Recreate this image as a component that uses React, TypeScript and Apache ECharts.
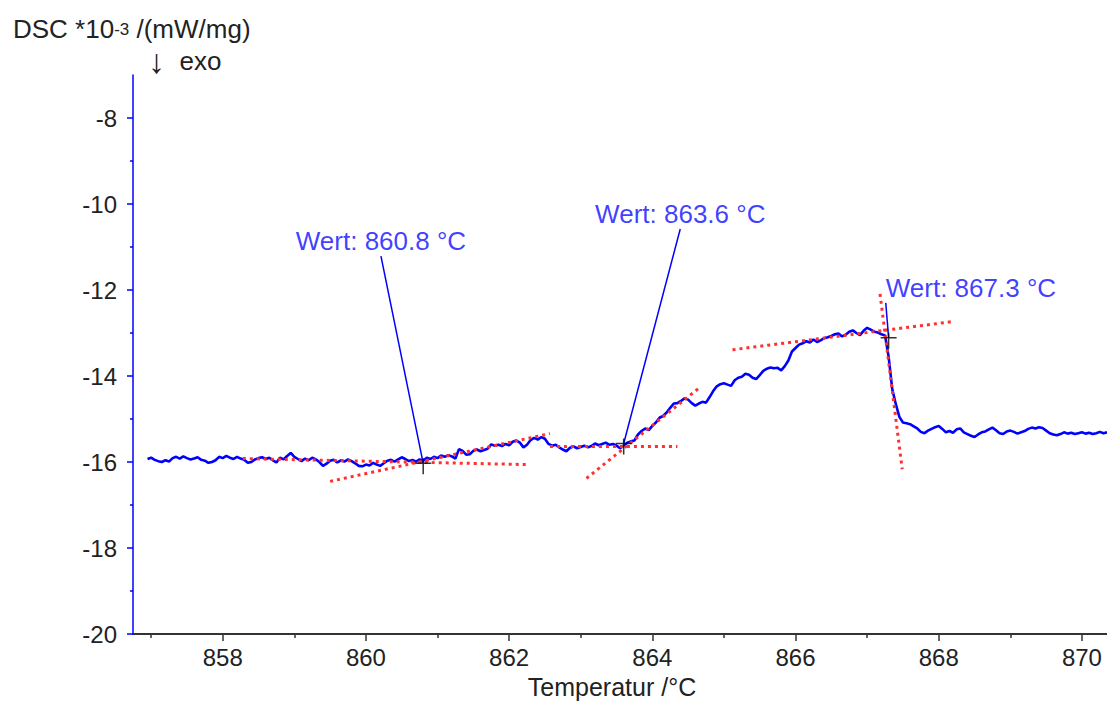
import React, { useEffect, useRef } from 'react';
import * as echarts from 'echarts';

// DSC signal, sampled every 0.05 °C starting at 856.95 °C (unit: 10^-3 mW/mg)
const T_START = 856.95;
const T_STEP = 0.05;
const dscValues = [
  -15.93, -15.90, -15.95, -15.98, -16.00, -15.96, -15.99, -15.91, -15.88, -15.92,
  -15.87, -15.91, -15.94, -15.92, -15.89, -15.95, -15.97, -16.02, -16.00, -15.96,
  -15.88, -15.91, -15.86, -15.90, -15.93, -15.88, -15.92, -15.95, -16.02, -16.00,
  -15.94, -15.91, -15.89, -15.93, -15.90, -15.96, -16.01, -15.90, -15.94, -15.86,
  -15.79, -15.88, -15.93, -15.98, -15.92, -15.96, -15.90, -15.94, -16.00, -16.09,
  -16.04, -15.97, -15.95, -16.01, -15.96, -15.99, -15.94, -15.98, -16.03, -16.09,
  -16.10, -16.06, -16.08, -16.02, -16.06, -16.09, -16.03, -15.97, -15.95, -15.99,
  -15.94, -15.89, -15.93, -15.98, -15.95, -15.99, -15.94, -15.97, -15.90, -15.93,
  -15.88, -15.91, -15.85, -15.88, -15.84, -15.87, -15.92, -15.70, -15.74, -15.83,
  -15.82, -15.74, -15.71, -15.75, -15.72, -15.69, -15.59, -15.62, -15.60, -15.63,
  -15.58, -15.61, -15.53, -15.50, -15.55, -15.66, -15.60, -15.49, -15.44, -15.48,
  -15.42, -15.46, -15.58, -15.62, -15.60, -15.66, -15.71, -15.75, -15.67, -15.64,
  -15.68, -15.65, -15.62, -15.66, -15.63, -15.57, -15.61, -15.58, -15.55, -15.60,
  -15.58, -15.62, -15.68, -15.62, -15.55, -15.52, -15.50, -15.36, -15.28, -15.22,
  -15.26, -15.16, -15.08, -14.97, -14.93, -14.85, -14.74, -14.64, -14.63, -14.58,
  -14.52, -14.55, -14.63, -14.69, -14.64, -14.60, -14.62, -14.49, -14.35, -14.24,
  -14.19, -14.17, -14.20, -14.23, -14.10, -14.04, -14.02, -13.95, -13.97, -14.04,
  -14.07, -13.98, -13.88, -13.83, -13.80, -13.82, -13.81, -13.87, -13.77, -13.64,
  -13.43, -13.35, -13.27, -13.24, -13.19, -13.22, -13.15, -13.21, -13.17, -13.12,
  -13.10, -13.07, -13.03, -13.01, -13.08, -13.04, -12.97, -12.94, -13.00, -13.05,
  -12.95, -12.88, -12.92, -12.97, -12.99, -13.03, -13.06, -13.55, -14.30, -14.65,
  -14.95, -15.08, -15.10, -15.12, -15.17, -15.22, -15.30, -15.33, -15.27, -15.23,
  -15.19, -15.16, -15.23, -15.31, -15.28, -15.32, -15.24, -15.22, -15.31, -15.35,
  -15.39, -15.42, -15.36, -15.31, -15.29, -15.24, -15.20, -15.26, -15.33, -15.35,
  -15.29, -15.27, -15.30, -15.34, -15.31, -15.28, -15.23, -15.20, -15.22, -15.19,
  -15.21, -15.27, -15.33, -15.36, -15.38, -15.35, -15.31, -15.34, -15.32, -15.35,
  -15.33, -15.31, -15.34, -15.32, -15.35, -15.33, -15.30, -15.33, -15.31,
];

// Axis ranges and tick positions
const X_MIN = 856.747;
const X_MAX = 870.35;
const Y_MIN = -20;
const Y_MAX = -7;
const xLabelTicks = [858, 860, 862, 864, 866, 868, 870];
const xMinorTicks = [857, 859, 861, 863, 865, 867, 869];
const yLabelTicks = [-20, -18, -16, -14, -12, -10, -8];
const yMinorTicks = [-19, -17, -15, -13, -11, -9];

// Evaluated onsets ("Wert") and the anchor of each label's leader line
const onsetTemps = [860.8, 863.6, 867.3];
const onsetValues = [-16.03, -15.57, -13.11];
const anchorTemps = [860.21, 864.39, 867.26];
const anchorValues = [-11.21, -10.58, -12.3];
const labelAligns = ['center', 'center', 'left'];

// Tangent construction lines: [[T1, v1], [T2, v2]]
const tangents = [
  [[858.28, -15.92], [862.25, -16.06]],
  [[859.5, -16.45], [862.57, -15.34]],
  [[862.57, -15.64], [864.35, -15.64]],
  [[863.08, -16.38], [864.66, -14.27]],
  [[865.12, -13.39], [868.17, -12.74]],
  [[867.18, -12.09], [867.49, -16.17]],
];

const FONT = '"Liberation Sans", Arial, sans-serif';
const BLUE = '#0000ff';
const LABEL_BLUE = '#0c0cff';

function buildOption() {
  const curve = dscValues.map((v, i) => [+(T_START + i * T_STEP).toFixed(2), v]);

  const tangentSeries = tangents.map((seg) => ({
    type: 'line',
    data: seg,
    symbol: 'none',
    silent: true,
    lineStyle: { color: '#ff3030', width: 3, type: [3, 4], cap: 'butt' },
    z: 3,
  }));

  const leaderSeries = onsetTemps.map((t, i) => ({
    type: 'line',
    data: [
      [anchorTemps[i], anchorValues[i]],
      [t, onsetValues[i]],
    ],
    symbol: 'none',
    silent: true,
    lineStyle: { color: BLUE, width: 1.5 },
    z: 4,
  }));

  return {
    animation: false,
    backgroundColor: '#ffffff',
    textStyle: { fontFamily: FONT },
    grid: { left: 133, right: 0, top: 75, bottom: 68, containLabel: false },
    xAxis: [
      {
        type: 'value',
        min: X_MIN,
        max: X_MAX,
        position: 'bottom',
        axisLine: { show: true, lineStyle: { color: '#333333', width: 2 } },
        axisTick: {
          show: true,
          inside: false,
          length: 7,
          customValues: xLabelTicks,
          lineStyle: { color: '#333333', width: 1.5 },
        },
        axisLabel: {
          customValues: xLabelTicks,
          fontSize: 24,
          color: '#222222',
          margin: 11,
          fontFamily: FONT,
        },
        splitLine: { show: false },
      },
      {
        type: 'value',
        min: X_MIN,
        max: X_MAX,
        position: 'bottom',
        axisLine: { show: false },
        axisTick: {
          show: true,
          length: 4,
          customValues: xMinorTicks,
          lineStyle: { color: '#333333', width: 1.5 },
        },
        axisLabel: { show: false },
        splitLine: { show: false },
      },
    ],
    yAxis: [
      {
        type: 'value',
        min: Y_MIN,
        max: Y_MAX,
        position: 'left',
        axisLine: { show: true, lineStyle: { color: BLUE, width: 1.5 } },
        axisTick: {
          show: true,
          length: 6,
          customValues: yLabelTicks,
          lineStyle: { color: BLUE, width: 1.5 },
        },
        axisLabel: {
          customValues: yLabelTicks,
          fontSize: 24,
          color: '#222222',
          margin: 16,
          fontFamily: FONT,
        },
        splitLine: { show: false },
      },
      {
        type: 'value',
        min: Y_MIN,
        max: Y_MAX,
        position: 'left',
        axisLine: { show: false },
        axisTick: {
          show: true,
          length: 3,
          customValues: yMinorTicks,
          lineStyle: { color: BLUE, width: 1.5 },
        },
        axisLabel: { show: false },
        splitLine: { show: false },
      },
    ],
    graphic: [
      {
        type: 'text',
        x: 13,
        y: 29,
        style: {
          text: '{m|DSC *10}{s|-3}{m| /(mW/mg)}',
          align: 'left',
          verticalAlign: 'middle',
          fill: '#222222',
          rich: {
            m: { fontSize: 26, fontFamily: FONT, fill: '#222222' },
            s: { fontSize: 17, fontFamily: FONT, fill: '#222222' },
          },
        },
      },
      {
        type: 'text',
        x: 148,
        y: 61,
        style: {
          text: '{a|↓}{m|  exo}',
          align: 'left',
          verticalAlign: 'middle',
          fill: '#222222',
          rich: {
            a: { fontSize: 34, fontFamily: FONT, fill: '#222222' },
            m: { fontSize: 26, fontFamily: FONT, fill: '#222222' },
          },
        },
      },
      {
        type: 'text',
        x: 612,
        y: 687,
        style: {
          text: 'Temperatur /°C',
          align: 'center',
          verticalAlign: 'middle',
          fontSize: 25,
          fontFamily: FONT,
          fill: '#222222',
        },
      },
    ],
    series: [
      {
        type: 'line',
        data: curve,
        symbol: 'none',
        silent: true,
        lineStyle: { color: BLUE, width: 2.6 },
        z: 2,
      },
      ...tangentSeries,
      ...leaderSeries,
      {
        type: 'scatter',
        data: onsetTemps.map((t, i) => [t, onsetValues[i]]),
        symbol: 'path://M0,5L16,5M8,0L8,16',
        symbolSize: 16,
        symbolOffset: [0, 3],
        silent: true,
        itemStyle: { color: 'transparent', borderColor: '#000000', borderWidth: 1.5 },
        z: 5,
      },
      {
        type: 'scatter',
        symbolSize: 0,
        silent: true,
        z: 6,
        data: onsetTemps.map((t, i) => ({
          value: [anchorTemps[i], anchorValues[i]],
          label: {
            show: true,
            position: 'top',
            distance: 2,
            align: labelAligns[i],
            formatter: `Wert: ${t.toFixed(1)} °C`,
            fontSize: 26,
            fontFamily: FONT,
            color: LABEL_BLUE,
          },
        })),
      },
    ],
  };
}

export default function App() {
  const ref = useRef<HTMLDivElement>(null);

  useEffect(() => {
    if (!ref.current) return;
    const chart = echarts.init(ref.current, null, { renderer: 'svg' });
    chart.setOption(buildOption() as any);
    return () => chart.dispose();
  }, []);

  return (
    <div
      ref={ref}
      style={{ position: 'absolute', left: 0, top: 0, width: 1107, height: 702, background: '#ffffff' }}
    />
  );
}
